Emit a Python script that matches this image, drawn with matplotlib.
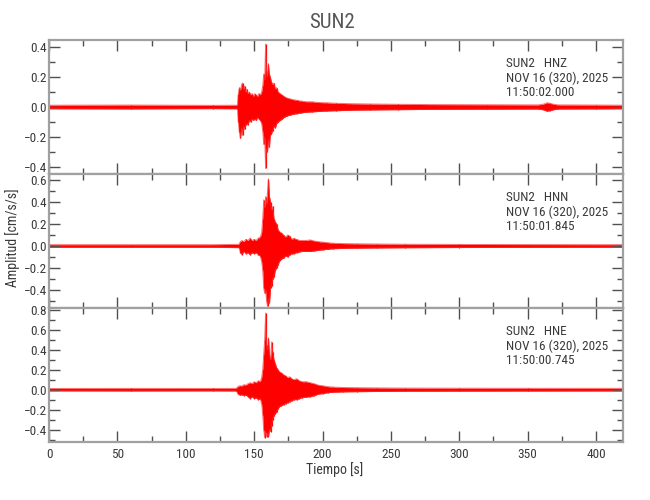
import numpy as np
import matplotlib
matplotlib.use("Agg")
import matplotlib.pyplot as plt
from matplotlib.ticker import MultipleLocator
from matplotlib import font_manager

_names = {f.name for f in font_manager.fontManager.ttflist}
_cands = ['Liberation Sans Narrow', 'Roboto Condensed', 'Open Sans Condensed',
          'Noto Sans Condensed', 'DejaVu Sans Condensed', 'Liberation Sans']
_chosen = [c for c in _cands if c in _names]
plt.rcParams['font.family'] = (_chosen[:1] or []) + ['DejaVu Sans']
plt.rcParams['font.stretch'] = 'condensed'

station = "SUN2"
channels = ["HNZ", "HNN", "HNE"]
date_str = "NOV 16 (320), 2025"
start_times = ["11:50:02.000", "11:50:01.845", "11:50:00.745"]

# HNZ envelope (peak values)
t_hnz = [0, 60, 120, 137.8, 138.5, 139.3, 140.0, 140.8, 141.5, 142.3, 143.0, 143.8, 144.5,
         145.5, 146.5, 147.5, 148.5, 149.5, 150.5, 151.5, 152.5, 153.5, 154.5, 155.5, 156.3,
         157.0, 157.7, 158.4, 159.0, 159.7, 160.4, 161.1, 161.8, 162.6, 163.5, 164.5, 165.5,
         166.5, 167.5, 169, 170.5, 172, 174, 176, 178, 181, 184, 188, 192, 197, 203, 210, 220,
         235, 255, 280, 320, 358, 362, 364, 366, 368, 372, 400, 420]
up_hnz = [.012, .013, .011, .012, .09, .13, .11, .15, .16, .12, .14, .10, .12,
          .09, .10, .08, .09, .07, .09, .08, .07, .09, .08, .10, .14,
          .22, .18, .42, .25, .20, .29, .22, .20, .17, .15, .16, .12,
          .13, .10, .09, .08, .07, .06, .055, .05, .045, .04, .035, .035, .03, .028, .025, .022,
          .02, .018, .016, .015, .014, .02, .028, .025, .02, .014, .013, .012]
lo_hnz = [-.012, -.013, -.011, -.012, -.10, -.17, -.21, -.14, -.19, -.13, -.15, -.12, -.11,
          -.12, -.09, -.10, -.08, -.09, -.08, -.09, -.07, -.08, -.09, -.11, -.16,
          -.25, -.20, -.41, -.28, -.30, -.22, -.27, -.19, -.18, -.16, -.13, -.14,
          -.11, -.10, -.09, -.08, -.07, -.06, -.055, -.05, -.045, -.04, -.035, -.033, -.03, -.027, -.025, -.022,
          -.02, -.018, -.016, -.015, -.014, -.02, -.028, -.025, -.02, -.014, -.013, -.012]

# HNN envelope
t_hnn = [0, 60, 120, 139, 140, 141, 142.5, 144, 145.5, 147, 148.5, 150, 151.5, 153, 154.5,
         155.5, 156.3, 157.0, 157.7, 158.4, 159.1, 159.8, 160.5, 161.2, 162.0, 162.8, 163.6,
         164.5, 165.5, 166.5, 167.5, 168.5, 170, 171.5, 173, 174.5, 176, 177.5, 179, 181, 183,
         185, 188, 191, 194, 197, 200, 204, 208, 215, 225, 240, 260, 300, 350, 420]
up_hnn = [.012, .012, .012, .015, .04, .05, .04, .06, .05, .07, .05, .06, .05, .07, .08,
          .12, .25, .42, .35, .45, .38, .50, .61, .45, .40, .33, .36,
          .25, .22, .20, .15, .13, .12, .10, .08, .10, .09, .06, .07, .06, .05,
          .05, .05, .055, .045, .04, .035, .03, .025, .022, .02, .018, .016, .014, .013, .012]
lo_hnn = [-.012, -.012, -.012, -.015, -.06, -.08, -.05, -.07, -.06, -.08, -.06, -.07, -.06, -.08, -.09,
          -.14, -.22, -.38, -.43, -.40, -.50, -.55, -.48, -.52, -.38, -.36, -.30,
          -.28, -.22, -.20, -.17, -.14, -.12, -.11, -.09, -.10, -.08, -.07, -.07, -.06, -.055,
          -.05, -.05, -.05, -.045, -.04, -.035, -.03, -.025, -.022, -.02, -.018, -.016, -.014, -.013, -.012]

# HNE envelope
t_hne = [0, 60, 120, 137, 138, 139.5, 141, 142.5, 144, 145.5, 147, 148.5, 150, 151.5, 153,
         154.5, 155.5, 156.3, 157.0, 157.7, 158.4, 159.1, 159.8, 160.5, 161.2, 162.0, 162.8,
         163.6, 164.5, 165.5, 166.5, 167.5, 168.5, 170, 171.5, 173, 174.5, 176, 177.5, 179, 181,
         183, 185, 188, 191, 194, 197, 200, 204, 208, 215, 225, 240, 260, 300, 350, 420]
up_hne = [.012, .013, .012, .013, .03, .04, .035, .05, .045, .06, .07, .06, .08, .07, .09,
          .08, .12, .20, .35, .50, .77, .45, .40, .52, .35, .30, .48,
          .38, .30, .26, .22, .20, .18, .17, .15, .14, .12, .13, .11, .10, .11,
          .09, .08, .08, .07, .06, .045, .04, .03, .026, .022, .02, .018, .016, .015, .014, .013]
lo_hne = [-.012, -.013, -.012, -.013, -.04, -.055, -.05, -.06, -.055, -.07, -.09, -.07, -.09, -.08, -.10,
          -.09, -.14, -.25, -.40, -.48, -.42, -.47, -.44, -.47, -.40, -.42, -.36,
          -.30, -.26, -.24, -.22, -.19, -.17, -.16, -.15, -.14, -.13, -.12, -.11, -.10, -.10,
          -.09, -.08, -.075, -.07, -.06, -.045, -.04, -.03, -.026, -.022, -.02, -.018, -.016, -.015, -.014, -.013]

ylims = [(-0.447, 0.447), (-0.564, 0.655), (-0.525, 0.82)]
yticks = [[-0.4, -0.2, 0.0, 0.2, 0.4],
          [-0.4, -0.2, 0.0, 0.2, 0.4, 0.6],
          [-0.4, -0.2, 0.0, 0.2, 0.4, 0.6, 0.8]]
xticks = [0, 50, 100, 150, 200, 250, 300, 350, 400]

traces = [(t_hnz, up_hnz, lo_hnz), (t_hnn, up_hnn, lo_hnn), (t_hne, up_hne, lo_hne)]

fig = plt.figure(figsize=(6.5, 5.0), dpi=100)
left, width = 0.0754, 0.8836
h = 0.268
bottoms = [1 - 174 / 500, 1 - 308 / 500, 1 - 442 / 500]

txtc = '#3a3a3a'
spc = '#a0a0a0'
tkc = '#505050'

axes = []
for i, (t, up, lo) in enumerate(traces):
    ax = fig.add_axes([left, bottoms[i], width, h])
    axes.append(ax)
    t = np.asarray(t); up = np.asarray(up); lo = np.asarray(lo)
    ax.fill_between(t, lo, up, color='#ff0000', lw=0)
    ax.vlines(t, lo, up, color='#ff0000', lw=0.9)
    ax.plot(t, up, color='#ff3030', lw=0.7, alpha=0.7)
    ax.plot(t, lo, color='#ff3030', lw=0.7, alpha=0.7)
    ax.set_xlim(0, 420)
    ax.set_ylim(*ylims[i])
    ax.set_xticks(xticks)
    ax.xaxis.set_minor_locator(MultipleLocator(25))
    ax.set_yticks(yticks[i])
    ax.yaxis.set_minor_locator(MultipleLocator(0.1))
    ax.set_yticklabels([f"{v:.1f}".replace('-', '\u2212') for v in yticks[i]])
    ax.tick_params(which='both', direction='in', top=True, right=True, colors=tkc,
                   labelcolor=txtc, labelsize=9.5)
    ax.tick_params(which='major', length=8, width=1.0)
    ax.tick_params(which='minor', length=4.5, width=1.0)
    ax.tick_params(axis='y', pad=1.5)
    ax.tick_params(axis='x', pad=4)
    for s in ax.spines.values():
        s.set_color(spc)
        s.set_linewidth(1.6)
    if i < 2:
        ax.tick_params(axis='x', labelbottom=False)
    ax.text(0.795, 0.875, f"{station}   {channels[i]}\n{date_str}\n{start_times[i]}",
            transform=ax.transAxes, ha='left', va='top', fontsize=9.5,
            color=txtc, linespacing=1.15)

fig.text(0.51, 0.955, station, ha='center', va='center', fontsize=15, color='#555555')
fig.text(0.515, 0.06, "Tiempo [s]", ha='center', va='center', fontsize=10, color=txtc)
fig.text(0.02, 0.525, "Amplitud [cm/s/s]", ha='center', va='center', rotation=90,
         fontsize=10, color=txtc)

fig.savefig("out.png", dpi=100)
